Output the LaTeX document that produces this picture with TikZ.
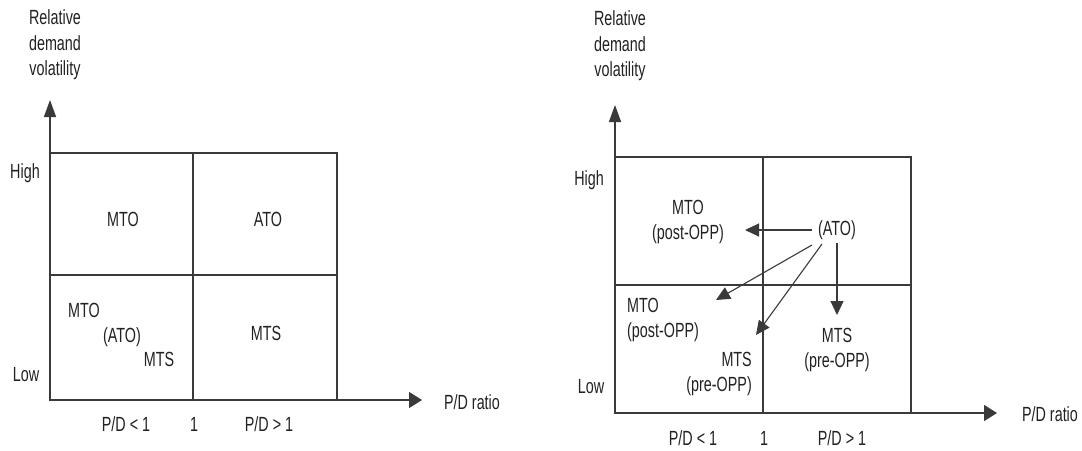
\documentclass[tikz,border=0pt]{standalone}
\usepackage{fontspec}
\setmainfont{Liberation Sans}[FakeStretch=0.7]
\usepackage{tikz}
\usetikzlibrary{arrows.meta,positioning,calc}
\definecolor{PDInk}{HTML}{222222}
\definecolor{PDLine}{HTML}{3A3A3A}

\begin{document}
\begin{tikzpicture}[
    x=1pt,y=-1pt,
    lbl/.style={inner sep=0pt, align=center, text=PDInk, font=\fontsize{20.5}{25.5}\selectfont},
    lbll/.style={lbl, align=left, anchor=west},
    lblr/.style={lbl, align=right, anchor=east},
    grid/.style={draw=PDLine, line width=1.3pt},
    axis/.style={draw=PDLine, line width=1.5pt},
    yaxis/.style={axis, -{Triangle[length=17pt,width=12pt]}},
    xaxis/.style={axis, -{Triangle[length=13pt,width=16pt]}},
    move/.style={draw=PDLine, line width=1.1pt, -{Triangle[length=14pt,width=13pt]}}
  ]
    \useasboundingbox[fill=white] (0,0) rectangle (1082,450);

    % left panel: grid and axes
    \coordinate (lo) at (50,400);
    \coordinate (ly) at (50,100);
    \coordinate (lx) at (422,400);
    \draw[grid] (50,153) rectangle (337,400);
    \draw[grid] (50,275) -- (337,275);
    \draw[grid] (193,153) -- (193,400);
    \draw[yaxis] (lo) -- (ly);
    \draw[xaxis] (lo) -- (lx);

    \node[lbl] (lvol) at (55,45) {Relative\\demand\\volatility};
    \node[lbl] (lhigh) at (25,173) {High};
    \node[lbl] (llow) at (26,375) {Low};
    \node[lbl] (lratio) at (472,402) {P/D ratio};
    \node[lbl] (lless) at (126,424) {P/D < 1};
    \node[lbl] (lone) at (194,424) {1};
    \node[lbl] (lmore) at (269,424) {P/D > 1};

    \node[lbl] (lmtoh) at (123,219) {MTO};
    \node[lbl] (latoh) at (268,219) {ATO};
    \node[lbl] (lmtol) at (84,310) {MTO};
    \node[lbl] (latol) at (122,337) {(ATO)};
    \node[lbl] (lmtsl) at (159,359) {MTS};
    \node[lbl] (lmtsr) at (266,333) {MTS};

    % right panel: grid and axes
    \coordinate (ro) at (615,413);
    \coordinate (ry) at (615,105);
    \coordinate (rx) at (997,413);
    \draw[grid] (615,157) rectangle (911,413);
    \draw[grid] (615,285) -- (911,285);
    \draw[grid] (763,157) -- (763,413);
    \draw[yaxis] (ro) -- (ry);
    \draw[xaxis] (ro) -- (rx);

    \node[lbl] (rvol) at (620,46) {Relative\\demand\\volatility};
    \node[lbl] (rhigh) at (589,180) {High};
    \node[lbl] (rlow) at (591,387) {Low};
    \node[lbl] (rratio) at (1050,414) {P/D ratio};
    \node[lbl] (rless) at (693,438) {P/D < 1};
    \node[lbl] (rone) at (764,438) {1};
    \node[lbl] (rmore) at (842,438) {P/D > 1};

    \node[lbl] (rpost) at (688,222) {MTO\\(post-OPP)};
    \node[lbl] (rato) at (837,230) {(ATO)};
    \node[lbll] (rpostl) at (627,320) {MTO\\(post-OPP)};
    \node[lblr] (rprel) at (752,374) {MTS\\(pre-OPP)};
    \node[lbl] (rpre) at (837,350) {MTS\\(pre-OPP)};

    \coordinate (tpost) at (745,230);
    \coordinate (tpostl) at (716,300);
    \coordinate (tprel) at (756,335);
    \coordinate (tpre) at (837,315);
    \draw[move] ($(rato.center)+(-25,0)$) -- (tpost);
    \draw[move] ($(rato.center)+(-25,15)$) -- (tpostl);
    \draw[move] ($(rato.center)+(-15,14)$) -- (tprel);
    \draw[move] ($(rato.center)+(0,13)$) -- (tpre);
  \end{tikzpicture}
\end{document}
